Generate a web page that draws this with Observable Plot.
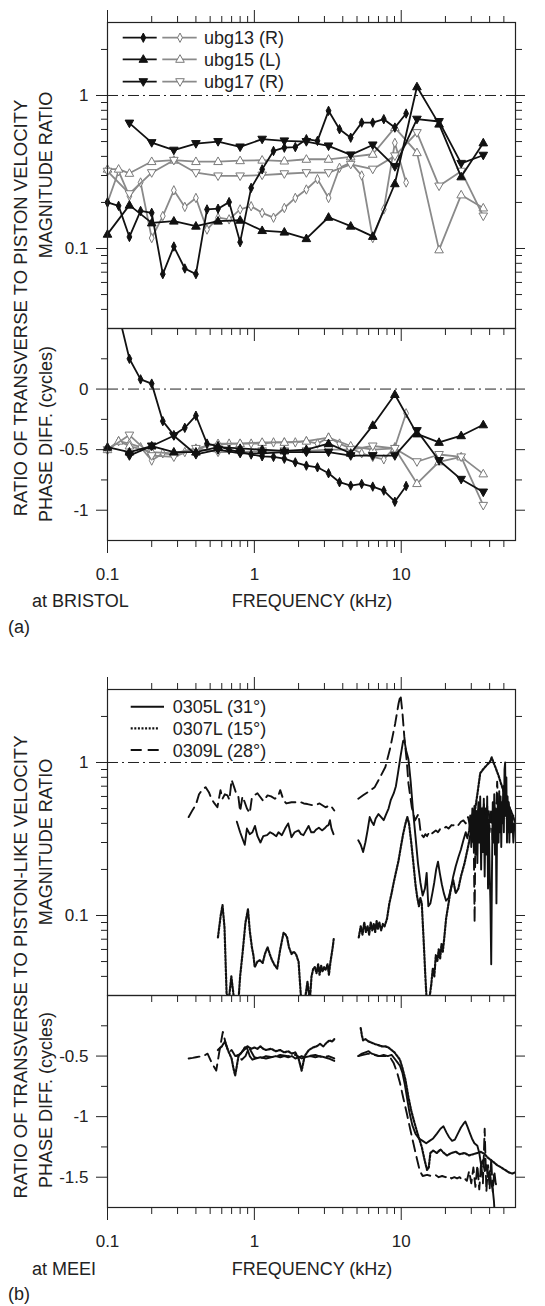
<!DOCTYPE html>
<html><head><meta charset="utf-8">
<script src="https://cdn.jsdelivr.net/npm/d3@7"></script>
<script src="https://cdn.jsdelivr.net/npm/@observablehq/plot@0.6"></script>
<style>
body{margin:0;background:#fff;}
#root{position:relative;width:545px;height:1306px;overflow:hidden;background:#fff;}
</style></head><body><div id="root"></div>
<script>
// ---------- axis ticks / labels ----------
const xMajor = [0.1, 1, 10];
const xTickLabels = ["0.1", "1", "10"];
const xMinor = [0.2,0.3,0.4,0.5,0.6,0.7,0.8,0.9,2,3,4,5,6,7,8,9,20,30,40,50];
const magMajor = [0.1, 1];
const magTickLabels = ["0.1", "1"];
const magMinor = [0.04,0.05,0.06,0.07,0.08,0.09,0.2,0.3,0.4,0.5,0.6,0.7,0.8,0.9,2];
const phaseAMajor = [0, -0.5, -1];
const phaseATickLabels = ["0", "-0.5", "-1"];
const phaseAMinor = [0.25, -0.25, -0.75];
const phaseBMajor = [-0.5, -1, -1.5];
const phaseBTickLabels = ["-0.5", "-1", "-1.5"];
const phaseBMinor = [-0.25, -0.75, -1.25];

// ---------- panel (a) frequencies (kHz) ----------
const fHalf = [0.1,0.141,0.2,0.283,0.4,0.566,0.8,1.13,1.6,2.26,3.2,4.53,6.4,9.05,12.8,18.1,25.6,36.2];
const fHalf17 = [0.141,0.2,0.283,0.4,0.566,0.8,1.13,1.6,2.26,3.2,4.53,6.4,9.05,12.8,18.1,25.6,36.2];
const fTri = [0.1,0.119,0.141,0.2,0.283,0.4,0.566,0.8,1.13,1.6,2.26,3.2,4.53,6.4,9.05,12.8,18.1,25.6,36.2];
const fQuarter = [0.1,0.119,0.141,0.168,0.2,0.238,0.283,0.336,0.4,0.476,0.566,0.673,0.8,0.951,1.13,1.35,1.6,1.9,2.26,2.69,3.2,3.8,4.53,5.38,6.4,7.61,9.05,10.8];

// ---------- panel (a) magnitude ----------
const ubg13MagBlack = [0.20,0.19,0.119,0.176,0.171,0.068,0.103,0.074,0.068,0.18,0.182,0.201,0.11,0.249,0.329,0.434,0.456,0.46,0.518,0.505,0.794,0.602,0.53,0.665,0.665,0.70,0.617,0.762];
const ubg13MagGray = [0.20,0.32,0.22,0.27,0.117,0.163,0.24,0.187,0.214,0.133,0.159,0.155,0.18,0.189,0.171,0.159,0.184,0.214,0.243,0.284,0.214,0.337,0.364,0.30,0.117,0.18,0.49,0.27];
const ubg15MagBlack = [0.124,0.192,0.147,0.151,0.14,0.151,0.153,0.131,0.128,0.116,0.16,0.14,0.12,0.265,1.14,0.65,0.294,0.49];
const ubg15MagGray = [0.33,0.33,0.31,0.37,0.378,0.37,0.37,0.375,0.378,0.373,0.383,0.383,0.397,0.413,0.617,0.423,0.098,0.224,0.184];
const ubg17MagBlack = [0.66,0.492,0.439,0.485,0.50,0.461,0.518,0.505,0.50,0.468,0.409,0.475,0.343,0.70,0.676,0.36,0.407];
const ubg17MagGray = [0.32,0.228,0.313,0.377,0.313,0.298,0.298,0.302,0.308,0.313,0.313,0.355,0.33,0.403,0.572,0.256,0.32,0.163];

// ---------- panel (a) phase (cycles) ----------
const ubg13PhaseBlack = [0.75,0.62,0.25,0.08,0.045,-0.265,-0.38,-0.32,-0.22,-0.45,-0.47,-0.50,-0.52,-0.54,-0.555,-0.56,-0.575,-0.605,-0.632,-0.646,-0.695,-0.769,-0.797,-0.783,-0.805,-0.838,-0.93,-0.80];
const ubg13PhaseGray = [-0.50,-0.43,-0.45,-0.48,-0.59,-0.53,-0.54,-0.52,-0.52,-0.46,-0.46,-0.45,-0.45,-0.45,-0.45,-0.44,-0.44,-0.44,-0.43,-0.45,-0.40,-0.45,-0.49,-0.53,-0.56,-0.58,-0.48,-0.20];
const ubg15PhaseBlack = [-0.48,-0.52,-0.47,-0.52,-0.52,-0.48,-0.49,-0.50,-0.51,-0.50,-0.45,-0.53,-0.30,-0.045,-0.37,-0.44,-0.385,-0.295];
const ubg15PhaseGray = [-0.50,-0.43,-0.47,-0.52,-0.53,-0.49,-0.45,-0.45,-0.44,-0.44,-0.43,-0.40,-0.47,-0.50,-0.49,-0.78,-0.60,-0.56,-0.70];
const ubg17PhaseBlack = [-0.55,-0.47,-0.385,-0.54,-0.50,-0.53,-0.53,-0.52,-0.52,-0.52,-0.55,-0.55,-0.55,-0.343,-0.59,-0.745,-0.85];
const ubg17PhaseGray = [-0.50,-0.38,-0.55,-0.56,-0.49,-0.52,-0.52,-0.51,-0.51,-0.51,-0.50,-0.50,-0.47,-0.49,-0.60,-0.54,-0.56,-0.96];

const legendA = ["ubg13 (R)", "ubg15 (L)", "ubg17 (R)"];

// ---------- panel (b): [kHz, value] ----------
const mag0305Low = [[0.76,0.41],[0.80,0.35],[0.86,0.29],[0.89,0.37],[0.93,0.34],[0.97,0.35],[1.01,0.385],[1.05,0.33],[1.10,0.30],[1.15,0.33],[1.22,0.335],[1.28,0.35],[1.35,0.34],[1.41,0.33],[1.46,0.35],[1.54,0.335],[1.62,0.37],[1.70,0.40],[1.79,0.325],[1.88,0.35],[2.0,0.36],[2.08,0.34],[2.16,0.335],[2.25,0.36],[2.34,0.385],[2.44,0.35],[2.54,0.35],[2.64,0.365],[2.75,0.375],[2.89,0.36],[3.0,0.37],[3.12,0.385],[3.2,0.39],[3.27,0.42],[3.35,0.37],[3.46,0.34]];
const mag0305High = [[5.1,0.31],[5.3,0.29],[5.5,0.26],[5.7,0.3],[5.9,0.36],[6.1,0.44],[6.3,0.41],[6.5,0.39],[6.7,0.43],[7.0,0.46],[7.3,0.44],[7.6,0.42],[7.9,0.46],[8.2,0.50],[8.5,0.57],[8.9,0.63],[9.2,0.70],[9.5,0.85],[9.9,1.1],[10.3,1.38],[10.5,1.40],[10.8,1.2],[11.2,1.05],[11.6,0.75],[12.0,0.50],[12.5,0.33],[13.0,0.22],[13.5,0.165],[14.0,0.135],[14.5,0.15],[14.9,0.19],[15.3,0.115],[15.8,0.12],[16.3,0.14],[16.8,0.165],[17.3,0.2],[17.8,0.225],[18.3,0.19],[18.9,0.16],[19.5,0.14],[20.2,0.125],[21.0,0.13],[21.8,0.15],[22.6,0.18],[23.5,0.21],[24.5,0.24],[25.5,0.27],[26.5,0.31],[27.5,0.35],[28.2,0.32],[29,0.36],[29.5,0.45],[30,0.28],[30.5,0.5],[31,0.3],[31.5,0.52],[32,0.25],[32.5,0.48],[33,0.22],[33.5,0.55],[34,0.3],[34.5,0.6],[35,0.2],[35.5,0.5],[36,0.26],[36.5,0.58],[37,0.18],[37.5,0.45],[38,0.25],[38.5,0.6],[39,0.15],[39.5,0.42],[40,0.2],[40.5,0.12],[41,0.048],[41.5,0.2],[42,0.55],[42.5,0.3],[43,0.62],[43.5,0.25],[44,0.5],[44.5,0.12],[45,0.4],[45.5,0.55],[46,0.3],[46.5,0.65],[47,0.35],[47.5,0.6],[48,0.28],[48.5,0.55],[49,0.4],[49.5,0.7],[50,0.35],[50.5,0.9],[51,1.0],[51.5,0.45],[52,0.8],[52.5,0.3],[53,0.6],[53.5,0.35],[54,0.55],[54.5,0.3],[55,0.5],[56,0.35],[57,0.45],[58,0.3],[59,0.4]];
const mag0307Low = [[0.565,0.072],[0.59,0.10],[0.607,0.117],[0.626,0.084],[0.647,0.031],[0.67,0.028],[0.697,0.040],[0.725,0.029],[0.75,0.025],[0.778,0.027],[0.80,0.04],[0.83,0.056],[0.87,0.09],[0.905,0.11],[0.93,0.08],[0.962,0.062],[0.985,0.055],[1.006,0.046],[1.05,0.05],[1.09,0.051],[1.14,0.049],[1.18,0.056],[1.23,0.062],[1.28,0.055],[1.32,0.051],[1.38,0.047],[1.43,0.045],[1.5,0.06],[1.58,0.077],[1.63,0.075],[1.67,0.072],[1.72,0.062],[1.79,0.056],[1.85,0.058],[1.92,0.056],[1.97,0.052],[2.0,0.05],[2.05,0.035],[2.09,0.027],[2.15,0.028],[2.22,0.029],[2.3,0.037],[2.35,0.031],[2.39,0.028],[2.45,0.04],[2.52,0.045],[2.58,0.046],[2.65,0.042],[2.72,0.048],[2.78,0.041],[2.85,0.047],[2.92,0.043],[2.98,0.046],[3.05,0.044],[3.15,0.048],[3.22,0.041],[3.3,0.05],[3.4,0.06],[3.47,0.07]];
const mag0307High = [[5.14,0.072],[5.3,0.085],[5.45,0.075],[5.6,0.09],[5.75,0.078],[5.9,0.085],[6.05,0.075],[6.2,0.09],[6.35,0.08],[6.5,0.088],[6.65,0.078],[6.8,0.092],[6.95,0.082],[7.1,0.09],[7.3,0.08],[7.5,0.088],[7.7,0.085],[8.0,0.095],[8.3,0.12],[8.6,0.14],[8.9,0.165],[9.3,0.2],[9.6,0.23],[10.0,0.29],[10.3,0.34],[10.7,0.40],[11.0,0.44],[11.3,0.40],[11.7,0.30],[12.1,0.22],[12.5,0.16],[12.8,0.135],[13.2,0.115],[13.5,0.13],[13.8,0.12],[14.2,0.07],[14.6,0.04],[15.0,0.025],[15.5,0.028],[16.0,0.035],[16.4,0.045],[16.8,0.04],[17.2,0.055],[17.6,0.05],[18.0,0.06],[18.4,0.052],[18.8,0.065],[19.2,0.058],[19.6,0.07],[20.2,0.095],[21,0.12],[21.8,0.15],[22.6,0.17],[23.5,0.14],[24.5,0.15],[25.5,0.18],[27,0.22],[28.5,0.28],[30,0.36],[31.5,0.46],[33,0.62],[34.5,0.85],[36,0.9],[37.5,0.94],[39,0.98],[40,1.0],[41.3,1.08],[42.5,1.0],[44,0.92],[46,0.82],[48,0.72],[50,0.64],[53,0.55],[56,0.48],[59,0.42]];
const mag0309Low = [[0.357,0.44],[0.38,0.49],[0.40,0.53],[0.42,0.62],[0.44,0.66],[0.466,0.69],[0.49,0.64],[0.51,0.58],[0.535,0.54],[0.56,0.51],[0.588,0.66],[0.607,0.58],[0.63,0.62],[0.656,0.61],[0.676,0.57],[0.70,0.77],[0.73,0.685],[0.755,0.62],[0.778,0.60],[0.80,0.48],[0.83,0.6],[0.86,0.55],[0.89,0.5],[0.93,0.467],[0.96,0.58],[1.0,0.61],[1.05,0.63],[1.09,0.60],[1.15,0.56],[1.23,0.61],[1.3,0.60],[1.38,0.58],[1.45,0.6],[1.5,0.66],[1.58,0.566],[1.65,0.54],[1.79,0.55],[1.9,0.55],[2.07,0.55],[2.17,0.54],[2.3,0.535],[2.5,0.525],[2.65,0.53],[2.78,0.54],[3.05,0.51],[3.3,0.525],[3.5,0.486]];
const mag0309High = [[5.1,0.58],[5.5,0.61],[6.17,0.658],[6.6,0.69],[7.2,0.805],[7.8,0.935],[8.4,1.235],[9.1,1.8],[9.6,2.44],[9.9,2.76],[10.2,2.1],[10.5,1.47],[10.9,1.03],[11.2,0.73],[11.8,0.51],[12.4,0.418],[13.1,0.46],[13.6,0.342],[14.2,0.325],[14.6,0.34],[15,0.33],[15.5,0.35],[16,0.34],[16.6,0.35],[17.2,0.36],[17.8,0.35],[18.5,0.37],[19.4,0.369],[20.2,0.38],[21,0.37],[22,0.39],[22.6,0.388],[23.5,0.4],[24.5,0.39],[25.5,0.41],[26.5,0.418],[27.5,0.40],[28.5,0.44],[29.5,0.38],[30.5,0.46],[31.2,0.3],[31.6,0.09],[32,0.35],[32.5,0.48],[33,0.36],[33.5,0.5],[34,0.34],[34.5,0.52],[35,0.32],[35.5,0.5],[36,0.3],[36.5,0.55],[37,0.33],[37.5,0.5],[38,0.28],[38.5,0.52],[39,0.3],[39.5,0.48],[40,0.35],[41,0.5],[42,0.3],[43,0.55],[44,0.38],[45,0.75],[46,0.45],[47,0.55],[48,0.4],[50,0.5],[52,0.42],[54,0.48],[56,0.4],[58,0.45],[60,0.4]];

const ph0305Low = [[0.76,-0.50],[0.8,-0.48],[0.85,-0.45],[0.89,-0.43],[0.93,-0.50],[0.97,-0.53],[1.02,-0.52],[1.1,-0.51],[1.2,-0.52],[1.3,-0.51],[1.4,-0.50],[1.5,-0.51],[1.6,-0.50],[1.7,-0.51],[1.8,-0.50],[1.9,-0.52],[2.0,-0.51],[2.1,-0.50],[2.2,-0.51],[2.4,-0.50],[2.6,-0.51],[2.8,-0.50],[3.0,-0.51],[3.2,-0.52],[3.5,-0.54]];
const ph0305High = [[5.1,-0.50],[5.4,-0.48],[5.7,-0.47],[6.0,-0.46],[6.3,-0.48],[6.7,-0.49],[7.1,-0.50],[7.6,-0.49],[8.1,-0.50],[8.6,-0.49],[9.0,-0.52],[9.4,-0.55],[9.8,-0.58],[10.2,-0.64],[10.6,-0.74],[11.0,-0.86],[11.4,-0.97],[11.9,-1.07],[12.5,-1.14],[13.2,-1.18],[14.0,-1.20],[14.8,-1.22],[15.6,-1.2],[16.5,-1.18],[17.5,-1.14],[18.5,-1.1],[19.4,-1.08],[20.3,-1.13],[21.2,-1.17],[22.2,-1.2],[23.2,-1.19],[24.3,-1.14],[25.5,-1.09],[26.5,-1.06],[27.3,-1.04],[28.2,-1.08],[29.2,-1.13],[30.3,-1.18],[31.5,-1.22],[33,-1.24],[34,-1.3],[35,-1.4],[36,-1.36],[37,-1.45],[38,-1.4],[39,-1.5],[40,-1.45],[41,-1.55],[42,-1.6],[42.8,-1.7],[43.3,-1.8],[44,-1.9]];
const ph0307Low = [[0.565,-0.45],[0.6,-0.42],[0.63,-0.38],[0.66,-0.45],[0.7,-0.52],[0.72,-0.60],[0.74,-0.66],[0.76,-0.58],[0.78,-0.50],[0.82,-0.47],[0.86,-0.43],[0.9,-0.42],[0.95,-0.44],[1.0,-0.43],[1.05,-0.44],[1.1,-0.42],[1.15,-0.44],[1.2,-0.45],[1.3,-0.44],[1.4,-0.46],[1.5,-0.45],[1.6,-0.47],[1.7,-0.46],[1.8,-0.48],[1.9,-0.47],[2.0,-0.52],[2.1,-0.62],[2.2,-0.5],[2.35,-0.45],[2.5,-0.43],[2.65,-0.42],[2.8,-0.40],[2.95,-0.42],[3.1,-0.39],[3.25,-0.37],[3.4,-0.38],[3.5,-0.36]];
const ph0307High = [[5.3,-0.27],[5.4,-0.33],[5.5,-0.37],[5.7,-0.36],[6.0,-0.38],[6.3,-0.39],[6.6,-0.40],[7.0,-0.41],[7.4,-0.42],[7.8,-0.42],[8.2,-0.43],[8.6,-0.45],[9.0,-0.47],[9.4,-0.5],[9.8,-0.53],[10.2,-0.6],[10.7,-0.7],[11.2,-0.84],[11.7,-0.95],[12.3,-1.05],[13.0,-1.15],[13.8,-1.25],[14.5,-1.37],[15.0,-1.44],[15.4,-1.42],[15.8,-1.30],[16.5,-1.28],[17.5,-1.3],[18.5,-1.27],[19.5,-1.3],[20.5,-1.32],[22,-1.3],[23.5,-1.29],[25,-1.31],[27,-1.30],[29,-1.32],[31,-1.31],[33,-1.3],[35,-1.29],[37,-1.31],[39,-1.34],[41,-1.36],[43,-1.38],[45,-1.40],[48,-1.42],[51,-1.44],[54,-1.46],[57,-1.47],[60,-1.46]];
const ph0309Low = [[0.357,-0.52],[0.38,-0.515],[0.40,-0.51],[0.42,-0.505],[0.45,-0.50],[0.48,-0.48],[0.51,-0.55],[0.55,-0.62],[0.58,-0.45],[0.61,-0.30],[0.64,-0.40],[0.67,-0.47],[0.7,-0.45],[0.74,-0.50],[0.78,-0.49],[0.82,-0.53],[0.87,-0.5],[0.92,-0.43],[1.0,-0.51],[1.1,-0.52],[1.2,-0.5],[1.35,-0.51],[1.5,-0.49],[1.7,-0.5],[1.9,-0.49],[2.1,-0.52],[2.3,-0.50],[2.6,-0.49],[2.9,-0.51],[3.2,-0.5],[3.5,-0.52]];
const ph0309High = [[5.1,-0.50],[5.5,-0.49],[6,-0.48],[6.5,-0.49],[7,-0.50],[7.5,-0.50],[8,-0.50],[8.5,-0.52],[8.9,-0.56],[9.4,-0.64],[9.8,-0.72],[10.3,-0.84],[10.9,-0.97],[11.5,-1.1],[12.1,-1.22],[12.8,-1.35],[13.4,-1.45],[14.0,-1.49],[15,-1.48],[16,-1.49],[17,-1.48],[18,-1.50],[19,-1.49],[20,-1.50],[21,-1.49],[22,-1.51],[23,-1.50],[24,-1.51],[25,-1.50],[26,-1.52],[27,-1.51],[28,-1.53],[29,-1.45],[30,-1.55],[31,-1.42],[32,-1.58],[33,-1.40],[34,-1.6],[35,-1.38],[36,-1.55],[37,-1.1],[37.5,-1.35],[38,-1.62],[39,-1.4],[40,-1.6],[41,-1.35],[42,-1.62],[43,-1.45],[44,-1.55],[45,-1.6]];

const legendB = ["0305L (31\u00b0)", "0307L (15\u00b0)", "0309L (28\u00b0)"];

// ---------- styles ----------
const FONT = '"Liberation Sans", Arial, Helvetica, sans-serif';
const BLACK = "#111", GRAY = "#8a8a8a", GRAYM = "#7a7a7a", AXIS = "#222";
const DOTTED = "2,1.6", DASHED = "11,6";
const symDiamond = {draw(c){ c.moveTo(0,-4.7); c.lineTo(2.4,0); c.lineTo(0,4.7); c.lineTo(-2.4,0); c.closePath(); }};
const symUp = {draw(c){ c.moveTo(0,-4.6); c.lineTo(4.3,3); c.lineTo(-4.3,3); c.closePath(); }};
const symDown = {draw(c){ c.moveTo(0,4.6); c.lineTo(4.3,-3); c.lineTo(-4.3,-3); c.closePath(); }};

const root = document.getElementById("root");
const noLab = () => "";

function axes(yMaj, yMin, yLabels, o) {
  const m = [];
  if (o.top) m.push(
    Plot.axisX(xMajor, {anchor: "top", tickSize: 13, tickFormat: noLab, label: null}),
    Plot.axisX(xMinor, {anchor: "top", tickSize: 7, tickFormat: noLab, label: null}));
  if (o.bottom) m.push(
    Plot.axisX(xMajor, {anchor: "bottom", tickSize: 13, tickPadding: 14.5, tickFormat: o.labels ? (d => xTickLabels[xMajor.indexOf(d)]) : noLab, label: null}),
    Plot.axisX(xMinor, {anchor: "bottom", tickSize: 7, tickFormat: noLab, label: null}));
  m.push(
    Plot.axisY(yMaj, {anchor: "left", tickSize: 11, tickPadding: 8, tickFormat: d => yLabels[yMaj.indexOf(d)], label: null}),
    Plot.axisY(yMin, {anchor: "left", tickSize: 6, tickFormat: noLab, label: null}),
    Plot.axisY(yMaj, {anchor: "right", tickSize: 9, tickFormat: noLab, label: null}),
    Plot.axisY(yMin, {anchor: "right", tickSize: 6, tickFormat: noLab, label: null}));
  return m;
}

function place(svg, top) {
  svg.style.position = "absolute";
  svg.style.left = "0px";
  svg.style.top = top + "px";
  root.appendChild(svg);
}

const baseStyle = {background: "transparent", overflow: "visible", fontSize: "17px", fontFamily: FONT, color: AXIS};
const xScale = {type: "log", domain: [0.1, 60], axis: null};

// ---------- panel (a) series ----------
const seriesA = [
  {f: fQuarter, mag: ubg13MagGray, ph: ubg13PhaseGray, sym: symDiamond, filled: false},
  {f: fTri, mag: ubg15MagGray, ph: ubg15PhaseGray, sym: symUp, filled: false},
  {f: fHalf, mag: ubg17MagGray, ph: ubg17PhaseGray, sym: symDown, filled: false},
  {f: fQuarter, mag: ubg13MagBlack, ph: ubg13PhaseBlack, sym: symDiamond, filled: true},
  {f: fHalf, mag: ubg15MagBlack, ph: ubg15PhaseBlack, sym: symUp, filled: true},
  {f: fHalf17, mag: ubg17MagBlack, ph: ubg17PhaseBlack, sym: symDown, filled: true}
];
function seriesMarks(key, lo, hi) {
  const m = [];
  for (const s of seriesA) {
    const data = s.f.map((f, i) => ({f, v: s[key][i]}));
    m.push(Plot.line(data, {x: "f", y: "v", stroke: s.filled ? BLACK : GRAY, strokeWidth: 1.8, strokeLinejoin: "round", clip: true}));
    m.push(Plot.dot(data.filter(d => d.v >= lo && d.v <= hi), {x: "f", y: "v", symbol: s.sym, r: 4,
      fill: s.filled ? BLACK : "white", stroke: s.filled ? BLACK : GRAYM, strokeWidth: 1}));
  }
  return m;
}

place(Plot.plot({
  width: 545, height: 343, marginTop: 22, marginBottom: 15, marginLeft: 107, marginRight: 30,
  style: baseStyle, x: xScale, y: {type: "log", domain: [0.03, 3], axis: null},
  marks: [
    Plot.ruleY([1], {stroke: AXIS, strokeWidth: 1, strokeDasharray: "11,4,2,4"}),
    ...seriesMarks("mag", 0.03, 3),
    Plot.frame({stroke: AXIS, strokeWidth: 1.2}),
    ...axes(magMajor, magMinor, magTickLabels, {top: true, bottom: true, labels: false})
  ]
}), 0);

place(Plot.plot({
  width: 545, height: 292, marginTop: 10, marginBottom: 70, marginLeft: 107, marginRight: 30,
  style: baseStyle, x: xScale, y: {domain: [-1.25, 0.5], axis: null},
  marks: [
    Plot.ruleY([0], {stroke: AXIS, strokeWidth: 1, strokeDasharray: "11,4,2,4"}),
    ...seriesMarks("ph", -1.25, 0.5),
    Plot.frame({stroke: AXIS, strokeWidth: 1.2}),
    ...axes(phaseAMajor, phaseAMinor, phaseATickLabels, {top: false, bottom: true, labels: true})
  ]
}), 318);

// ---------- panel (b) ----------
function seg(data, dash) {
  return Plot.line(data, {x: d => d[0], y: d => d[1], stroke: BLACK, strokeWidth: dash === DOTTED ? 2.2 : 1.9,
    strokeDasharray: dash, strokeLinejoin: "round", clip: true});
}

place(Plot.plot({
  width: 545, height: 343, marginTop: 22, marginBottom: 15, marginLeft: 107, marginRight: 30,
  style: baseStyle, x: xScale, y: {type: "log", domain: [0.03, 3], axis: null},
  marks: [
    Plot.ruleY([1], {stroke: AXIS, strokeWidth: 1, strokeDasharray: "11,4,2,4"}),
    seg(mag0309Low, DASHED), seg(mag0309High, DASHED),
    seg(mag0307Low, DOTTED), seg(mag0307High, DOTTED),
    seg(mag0305Low, null), seg(mag0305High, null),
    Plot.frame({stroke: AXIS, strokeWidth: 1.2}),
    ...axes(magMajor, magMinor, magTickLabels, {top: true, bottom: true, labels: false})
  ]
}), 667);

place(Plot.plot({
  width: 545, height: 292, marginTop: 10, marginBottom: 70, marginLeft: 107, marginRight: 30,
  style: baseStyle, x: xScale, y: {domain: [-1.75, 0], axis: null},
  marks: [
    seg(ph0309Low, DASHED), seg(ph0309High, DASHED),
    seg(ph0307Low, DOTTED), seg(ph0307High, DOTTED),
    seg(ph0305Low, null), seg(ph0305High, null),
    Plot.frame({stroke: AXIS, strokeWidth: 1.2}),
    ...axes(phaseBMajor, phaseBMinor, phaseBTickLabels, {top: false, bottom: true, labels: true})
  ]
}), 985);

// ---------- overlay: titles, legends ----------
const ov = d3.select(root).append("svg")
  .attr("width", 545).attr("height", 1306)
  .style("position", "absolute").style("left", "0px").style("top", "0px")
  .attr("font-family", FONT).attr("fill", AXIS);

function vtext(x, y, str, size) {
  ov.append("text").attr("transform", `translate(${x},${y}) rotate(-90)`)
    .attr("text-anchor", "middle").attr("font-size", size).text(str);
}
function htext(x, y, str, anchor) {
  ov.append("text").attr("x", x).attr("y", y).attr("text-anchor", anchor || "start")
    .attr("font-size", 18).text(str);
}
vtext(26.5, 308, "RATIO OF TRANSVERSE TO PISTON VELOCITY", 18.5);
vtext(52, 175, "MAGNITUDE RATIO", 18);
vtext(52, 434, "PHASE DIFF. (cycles)", 18);
htext(32, 607, "at BRISTOL");
htext(312, 607, "FREQUENCY (kHz)", "middle");
htext(8, 633, "(a)");

vtext(26.5, 967, "RATIO OF TRANSVERSE TO PISTON-LIKE VELOCITY", 18.5);
vtext(52, 842, "MAGNITUDE RATIO", 18);
vtext(52, 1100, "PHASE DIFF. (cycles)", 18);
htext(32, 1275, "at MEEI");
htext(312, 1275, "FREQUENCY (kHz)", "middle");
htext(8, 1300, "(b)");

function symPath(sym) { const p = d3.path(); sym.draw(p); return p.toString(); }
const legSyms = [symDiamond, symUp, symDown];
[37.7, 59.3, 81.7].forEach((y, i) => {
  ov.append("line").attr("x1", 122.7).attr("x2", 156.7).attr("y1", y).attr("y2", y).attr("stroke", BLACK).attr("stroke-width", 1.8);
  ov.append("path").attr("d", symPath(legSyms[i])).attr("transform", `translate(143.3,${y})`).attr("fill", BLACK).attr("stroke", BLACK);
  ov.append("line").attr("x1", 162.3).attr("x2", 196.7).attr("y1", y).attr("y2", y).attr("stroke", GRAY).attr("stroke-width", 1.8);
  ov.append("path").attr("d", symPath(legSyms[i])).attr("transform", `translate(180,${y})`).attr("fill", "white").attr("stroke", GRAYM);
  htext(204, y + 6.5, legendA[i]);
});
const legDash = [null, DOTTED, DASHED];
const legEnd = [164, 159.5, 164];
[706.7, 728.3, 750].forEach((y, i) => {
  const l = ov.append("line").attr("x1", 130.7).attr("x2", legEnd[i]).attr("y1", y).attr("y2", y)
    .attr("stroke", BLACK).attr("stroke-width", i === 1 ? 2.2 : 1.9);
  if (legDash[i]) l.attr("stroke-dasharray", legDash[i]);
  htext(172.7, y + 6.5, legendB[i]);
});
</script></body></html>
